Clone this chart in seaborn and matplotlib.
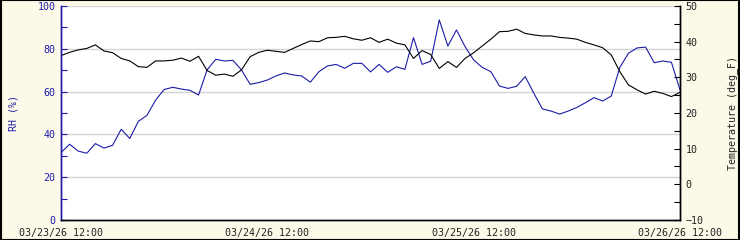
import numpy as np
import pandas as pd
import matplotlib
matplotlib.use("Agg")
import matplotlib.pyplot as plt
import matplotlib.dates as mdates
from matplotlib.ticker import MultipleLocator
import seaborn as sns

# hourly readings, 03/23/26 12:00 -> 03/26/26 12:00
rh = [31.5, 35.4, 32.2, 31.2, 35.7, 33.6, 34.9, 42.4, 38.1, 46.1, 48.9, 56.0,
      61.0, 62.0, 61.2, 60.6, 58.4, 70.2, 75.1, 74.3, 74.6, 70.1, 63.4, 64.2,
      65.4, 67.3, 68.7, 67.8, 67.3, 64.4, 69.3, 72.0, 72.7, 70.9, 73.2, 73.2,
      69.2, 72.7, 69.0, 71.6, 70.4, 85.2, 72.7, 74.2, 93.5, 81.3, 88.8, 81.0,
      74.8, 71.3, 69.3, 62.6, 61.5, 62.5, 67.0, 59.2, 51.9, 50.9, 49.5, 50.9,
      52.6, 54.8, 57.2, 55.6, 57.9, 71.3, 77.9, 80.4, 80.8, 73.5, 74.3, 73.7,
      60.8]
temp = [36.1, 37.0, 37.7, 38.1, 39.1, 37.4, 36.9, 35.3, 34.6, 33.0, 32.8, 34.6,
        34.6, 34.8, 35.4, 34.5, 35.9, 31.9, 30.6, 30.9, 30.3, 32.1, 35.8, 37.0,
        37.6, 37.3, 37.0, 38.1, 39.2, 40.2, 40.0, 41.1, 41.2, 41.5, 40.8, 40.4,
        41.1, 39.8, 40.7, 39.6, 39.1, 35.3, 37.5, 36.4, 32.5, 34.4, 32.8, 35.3,
        36.9, 38.8, 40.7, 42.8, 42.9, 43.5, 42.3, 41.9, 41.6, 41.6, 41.2, 41.0,
        40.7, 39.8, 39.1, 38.3, 36.3, 31.6, 27.9, 26.5, 25.3, 26.1, 25.5, 24.6,
        25.8]
xtick_labels = ["03/23/26 12:00", "03/24/26 12:00", "03/25/26 12:00", "03/26/26 12:00"]

times = pd.date_range("2026-03-23 12:00", periods=len(rh), freq="h")
df = pd.DataFrame({"time": times, "rh": rh, "temp": temp})

sns.set_theme(style="white")
plt.rcParams["font.family"] = ["DejaVu Sans Mono", "DejaVu Sans"]

bg = "#fdf9e8"
blue = "#1c1ca8"
fig = plt.figure(figsize=(7.4, 2.4), dpi=100, facecolor=bg)
ax = fig.add_axes([61/740, 20/240, 619/740, 214/240])
ax.set_facecolor("white")
ax2 = ax.twinx()

ax.set_axisbelow(True)
for v in [20, 40, 60, 80, 100]:
    ax.axhline(v, color="#d4d4d4", lw=1.0, zorder=0)

sns.lineplot(data=df, x="time", y="rh", ax=ax, color=blue, lw=0.8)
sns.lineplot(data=df, x="time", y="temp", ax=ax2, color="black", lw=0.8)

t0 = pd.Timestamp("2026-03-23 12:00")
t1 = pd.Timestamp("2026-03-26 12:00")
ax.set_xlim(t0, t1)
ax.set_ylim(0, 100)
ax2.set_ylim(-10, 50)

ax.set_xticks(pd.date_range(t0, t1, freq="D"))
ax.set_xticklabels(xtick_labels)
ax.xaxis.set_minor_locator(mdates.HourLocator(byhour=[0, 6, 12, 18]))
ax.yaxis.set_major_locator(MultipleLocator(20))
ax.yaxis.set_minor_locator(MultipleLocator(10))
ax2.yaxis.set_major_locator(MultipleLocator(10))
ax2.yaxis.set_minor_locator(MultipleLocator(5))

ax.tick_params(axis="x", which="both", direction="in", length=4, width=0.8,
               color="black", labelsize=7.2, labelcolor="#222222", pad=5.5)
ax.tick_params(axis="y", which="both", direction="in", length=4, width=0.8,
               color=blue, labelsize=7.2, labelcolor=blue, pad=4)
ax2.tick_params(axis="y", which="both", direction="in", length=4, width=0.8,
                color="black", labelsize=7.2, labelcolor="#222222", pad=4)

ax.set_xlabel("")
ax.set_ylabel("RH (%)", color=blue, fontsize=7.2, labelpad=14)
ax2.set_ylabel("Temperature (deg_F)", color="#222222", fontsize=7.2, labelpad=17)

for a in (ax, ax2):
    a.spines["top"].set_visible(False)
    a.spines["left"].set_color(blue)
    a.spines["left"].set_linewidth(1.0)
    a.spines["bottom"].set_color("black")
    a.spines["bottom"].set_linewidth(1.0)
    a.spines["right"].set_color("black")
    a.spines["right"].set_linewidth(1.0)

border = plt.Rectangle((0.0007, 0.002), 0.9986, 0.996, transform=fig.transFigure,
                       fill=False, edgecolor="black", lw=1.5)
fig.patches.append(border)

fig.savefig("out.png", dpi=100, facecolor=bg)
